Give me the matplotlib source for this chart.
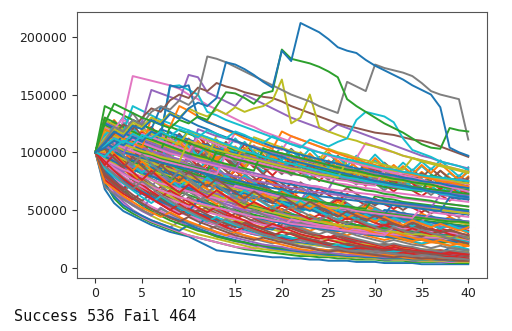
import matplotlib

matplotlib.use("Agg")
import matplotlib.pyplot as plt
import numpy as np

# Monte Carlo balance paths, values in thousands, one value per year 0..40
years = list(range(41))
n_success = 536
n_fail = 464

background = [
    # low paths, fast decay
    [100, 68, 56, 49, 45, 41, 37, 34, 31, 29, 27, 23, 19, 15, 14, 13, 12, 11, 10, 9, 9, 8, 8, 7, 7, 6, 6, 6, 5, 5, 5, 4, 4, 4, 4, 3, 3, 3, 3, 3, 3],
    [100, 74, 60, 52, 47, 43, 39, 36, 33, 30, 28, 26, 24, 22, 20, 18, 16, 15, 14, 13, 12, 11, 10, 10, 9, 9, 8, 8, 7, 7, 7, 6, 6, 6, 5, 5, 5, 5, 4, 4, 4],
    [100, 80, 66, 57, 50, 45, 41, 38, 35, 40, 36, 33, 30, 27, 25, 23, 21, 19, 18, 16, 15, 14, 13, 12, 11, 10, 10, 9, 9, 8, 8, 7, 7, 7, 6, 6, 6, 5, 5, 5, 5],
    [100, 77, 63, 55, 49, 44, 40, 37, 34, 31, 28, 26, 24, 22, 20, 18, 17, 16, 20, 18, 16, 15, 14, 13, 12, 11, 10, 10, 9, 9, 8, 8, 7, 7, 7, 6, 6, 6, 5, 5, 5],
    [100, 85, 72, 62, 55, 50, 45, 41, 38, 35, 32, 29, 27, 25, 23, 21, 19, 17, 16, 15, 14, 13, 12, 11, 11, 10, 10, 9, 9, 8, 8, 8, 7, 7, 7, 6, 6, 6, 6, 5, 5],
    [100, 72, 62, 54, 49, 45, 41, 38, 35, 32, 37, 34, 31, 28, 26, 24, 22, 20, 19, 17, 16, 15, 14, 13, 12, 11, 11, 10, 10, 9, 9, 8, 8, 8, 7, 7, 7, 7, 6, 6, 6],
    [100, 90, 78, 68, 60, 54, 49, 45, 41, 38, 35, 32, 30, 27, 25, 23, 22, 20, 19, 18, 17, 16, 15, 14, 13, 12, 12, 11, 11, 10, 10, 9, 9, 9, 8, 8, 8, 7, 7, 7, 7],
    [100, 82, 70, 60, 54, 49, 45, 52, 47, 43, 39, 36, 33, 30, 28, 26, 24, 22, 20, 19, 18, 16, 15, 14, 13, 13, 12, 11, 11, 10, 10, 9, 9, 9, 8, 8, 8, 7, 7, 7, 7],
    # lower-middle
    [100, 88, 78, 70, 63, 58, 53, 49, 45, 42, 39, 36, 34, 31, 29, 27, 34, 31, 29, 27, 25, 23, 22, 20, 19, 18, 17, 16, 15, 14, 13, 12, 12, 11, 11, 10, 10, 9, 9, 9, 8],
    [100, 92, 84, 77, 71, 66, 61, 57, 53, 49, 46, 43, 40, 37, 35, 33, 31, 29, 27, 25, 24, 22, 21, 20, 19, 18, 17, 16, 15, 14, 14, 13, 12, 12, 11, 11, 10, 10, 10, 9, 9],
    [100, 86, 76, 68, 80, 72, 65, 60, 55, 51, 47, 44, 41, 38, 36, 33, 31, 29, 28, 26, 25, 23, 22, 21, 20, 19, 18, 17, 16, 15, 14, 14, 13, 13, 12, 12, 11, 11, 11, 10, 10],
    [100, 95, 88, 82, 76, 70, 65, 61, 57, 53, 50, 47, 44, 41, 39, 37, 35, 33, 31, 29, 28, 26, 25, 24, 22, 21, 20, 19, 19, 18, 17, 16, 16, 15, 15, 14, 14, 13, 13, 12, 12],
    [100, 78, 68, 60, 55, 50, 62, 56, 52, 48, 45, 42, 39, 37, 35, 33, 31, 29, 28, 26, 25, 24, 23, 22, 21, 20, 19, 18, 17, 17, 16, 15, 15, 14, 14, 13, 13, 12, 12, 12, 11],
    [100, 90, 82, 75, 69, 64, 59, 55, 51, 48, 45, 42, 40, 37, 35, 33, 31, 30, 28, 27, 26, 24, 23, 22, 26, 24, 23, 22, 21, 20, 19, 18, 17, 17, 16, 15, 15, 14, 14, 13, 13],
    [100, 98, 92, 86, 80, 75, 70, 66, 62, 58, 55, 52, 49, 46, 43, 41, 39, 37, 35, 33, 31, 30, 28, 27, 26, 24, 23, 22, 21, 20, 19, 19, 18, 17, 17, 16, 15, 15, 14, 14, 14],
    [100, 84, 74, 66, 60, 55, 51, 47, 44, 41, 38, 36, 45, 41, 38, 36, 33, 31, 30, 28, 26, 25, 24, 22, 21, 20, 19, 18, 18, 17, 16, 16, 15, 15, 14, 14, 13, 13, 17, 16, 15],
    # middle
    [100, 105, 98, 92, 86, 81, 77, 73, 69, 66, 63, 60, 57, 54, 52, 50, 48, 46, 44, 42, 40, 39, 37, 36, 35, 33, 32, 31, 30, 29, 28, 27, 26, 25, 24, 24, 23, 22, 22, 21, 20],
    [100, 93, 87, 82, 77, 73, 69, 82, 77, 73, 69, 66, 63, 60, 57, 55, 52, 50, 48, 46, 44, 42, 41, 39, 38, 36, 35, 34, 32, 31, 30, 29, 28, 27, 26, 26, 25, 24, 23, 23, 22],
    [100, 112, 104, 97, 91, 86, 81, 77, 73, 69, 66, 63, 60, 57, 55, 53, 51, 49, 47, 45, 43, 41, 39, 38, 36, 35, 34, 33, 40, 38, 37, 35, 34, 33, 32, 31, 30, 29, 28, 27, 26],
    [100, 96, 90, 85, 80, 75, 71, 67, 64, 61, 58, 55, 53, 51, 61, 58, 55, 53, 51, 49, 47, 45, 43, 42, 40, 39, 37, 36, 35, 34, 33, 32, 31, 30, 29, 28, 27, 27, 26, 25, 25],
    [100, 88, 81, 75, 70, 66, 62, 58, 55, 52, 50, 47, 45, 43, 41, 39, 37, 36, 34, 33, 40, 38, 37, 35, 34, 33, 32, 31, 30, 29, 28, 27, 26, 26, 25, 24, 24, 23, 23, 22, 22],
    [100, 118, 110, 103, 97, 92, 87, 82, 78, 74, 70, 67, 64, 61, 58, 56, 53, 51, 49, 47, 45, 43, 42, 40, 39, 37, 36, 35, 34, 33, 32, 31, 30, 29, 28, 27, 26, 26, 25, 24, 24],
    [100, 94, 88, 83, 95, 89, 84, 79, 75, 71, 67, 64, 61, 58, 55, 52, 50, 48, 46, 44, 42, 40, 38, 37, 35, 34, 33, 31, 30, 29, 36, 35, 33, 32, 31, 30, 29, 28, 27, 27, 26],
    [100, 90, 84, 79, 74, 70, 66, 62, 59, 56, 53, 51, 48, 46, 44, 42, 41, 39, 37, 36, 35, 42, 40, 39, 37, 36, 35, 34, 33, 32, 31, 30, 29, 28, 28, 27, 26, 26, 25, 25, 24],
    [100, 104, 97, 91, 86, 81, 76, 72, 68, 64, 76, 72, 68, 65, 62, 59, 56, 54, 51, 49, 47, 45, 43, 42, 40, 39, 37, 36, 35, 34, 33, 32, 31, 30, 29, 28, 28, 27, 26, 26, 25],
    [100, 86, 79, 73, 68, 64, 60, 57, 54, 51, 49, 58, 55, 52, 50, 48, 46, 44, 42, 40, 39, 37, 36, 35, 34, 33, 32, 38, 37, 36, 35, 34, 33, 32, 31, 30, 29, 28, 28, 27, 26],
    [100, 97, 93, 89, 86, 83, 80, 77, 74, 71, 68, 66, 63, 61, 59, 57, 55, 53, 51, 50, 48, 46, 45, 43, 42, 41, 40, 39, 37, 36, 35, 34, 34, 33, 32, 31, 30, 30, 29, 28, 28],
    [100, 110, 103, 97, 92, 87, 83, 79, 75, 72, 69, 66, 63, 61, 58, 56, 54, 52, 50, 48, 47, 45, 44, 42, 41, 50, 48, 47, 45, 44, 43, 42, 41, 40, 39, 38, 37, 36, 35, 35, 34],
    [100, 92, 86, 81, 77, 73, 70, 67, 64, 61, 59, 56, 54, 52, 50, 48, 46, 44, 43, 41, 40, 38, 37, 36, 35, 34, 33, 32, 31, 30, 29, 28, 35, 34, 33, 32, 31, 30, 30, 29, 28],
    [100, 95, 90, 104, 98, 93, 88, 83, 79, 75, 72, 68, 65, 62, 59, 57, 54, 52, 50, 48, 46, 44, 43, 41, 40, 38, 37, 36, 35, 34, 33, 32, 31, 30, 29, 29, 28, 27, 27, 26, 26],
    # upper-middle
    [100, 114, 108, 103, 98, 94, 90, 86, 83, 80, 77, 74, 71, 69, 66, 64, 62, 60, 58, 56, 54, 53, 51, 50, 48, 47, 46, 44, 43, 42, 41, 50, 49, 47, 46, 45, 44, 43, 42, 41, 40],
    [100, 106, 101, 96, 92, 88, 84, 81, 78, 75, 90, 86, 83, 80, 77, 74, 71, 69, 66, 64, 62, 60, 58, 56, 55, 53, 51, 50, 48, 47, 46, 45, 44, 43, 42, 41, 40, 39, 38, 37, 36],
    [100, 98, 94, 90, 87, 84, 81, 78, 75, 72, 70, 68, 66, 64, 62, 60, 58, 70, 68, 66, 64, 62, 60, 58, 57, 55, 54, 52, 51, 50, 49, 48, 47, 46, 45, 44, 43, 42, 41, 40, 40],
    [100, 120, 114, 109, 104, 100, 96, 92, 89, 86, 83, 80, 77, 74, 72, 69, 67, 65, 63, 61, 59, 57, 56, 54, 53, 51, 50, 49, 47, 46, 45, 44, 43, 42, 41, 40, 48, 47, 46, 45, 44],
    [100, 102, 98, 94, 90, 87, 84, 81, 97, 93, 89, 86, 83, 80, 77, 75, 72, 70, 68, 66, 64, 62, 60, 58, 57, 55, 54, 52, 51, 50, 48, 47, 46, 45, 44, 43, 42, 41, 40, 39, 38],
    [100, 96, 92, 88, 85, 82, 79, 76, 74, 71, 69, 67, 80, 77, 75, 72, 70, 68, 66, 64, 62, 60, 58, 57, 55, 54, 52, 51, 50, 48, 47, 46, 56, 54, 53, 52, 50, 49, 48, 47, 46],
    [100, 117, 112, 107, 103, 99, 95, 92, 89, 86, 83, 80, 78, 75, 73, 71, 69, 67, 65, 63, 61, 60, 58, 57, 55, 54, 53, 51, 50, 49, 48, 47, 46, 45, 44, 43, 42, 41, 40, 40, 39],
    [100, 108, 104, 100, 97, 94, 91, 88, 85, 83, 80, 78, 76, 74, 72, 70, 68, 66, 65, 63, 61, 60, 58, 70, 68, 66, 64, 63, 61, 60, 58, 57, 56, 55, 54, 53, 52, 51, 50, 49, 48],
    [100, 93, 89, 85, 82, 79, 76, 73, 71, 68, 66, 64, 62, 60, 58, 71, 69, 67, 65, 63, 61, 59, 58, 56, 55, 53, 52, 51, 49, 48, 47, 46, 45, 44, 43, 52, 51, 50, 49, 48, 47],
    [100, 111, 106, 102, 98, 94, 91, 88, 85, 82, 79, 77, 74, 72, 70, 68, 66, 64, 62, 61, 59, 58, 56, 55, 53, 52, 51, 62, 60, 59, 57, 56, 55, 54, 53, 52, 51, 50, 49, 48, 47],
    [100, 104, 100, 96, 93, 90, 87, 84, 81, 79, 76, 74, 72, 70, 68, 66, 64, 62, 60, 59, 57, 56, 54, 53, 52, 50, 49, 48, 47, 46, 45, 44, 43, 42, 41, 40, 39, 38, 37, 36, 35],
    [100, 124, 118, 113, 108, 104, 100, 96, 93, 90, 87, 84, 81, 79, 76, 74, 72, 70, 68, 66, 64, 62, 60, 59, 57, 56, 54, 53, 52, 51, 62, 60, 59, 57, 56, 55, 54, 53, 52, 51, 50],
    # upper paths
    [100, 118, 114, 110, 106, 103, 100, 97, 94, 92, 89, 87, 85, 83, 81, 79, 77, 75, 74, 72, 71, 69, 68, 66, 65, 64, 63, 61, 60, 59, 58, 57, 56, 55, 54, 53, 52, 63, 62, 61, 60],
    [100, 108, 105, 128, 124, 120, 117, 114, 111, 108, 105, 103, 100, 98, 95, 93, 91, 89, 87, 85, 83, 81, 80, 78, 76, 75, 73, 72, 70, 69, 68, 66, 65, 64, 63, 62, 61, 60, 59, 58, 57],
    [100, 122, 118, 115, 112, 109, 106, 104, 101, 99, 97, 95, 93, 91, 89, 87, 85, 102, 100, 98, 96, 94, 92, 90, 88, 86, 85, 83, 82, 80, 79, 77, 76, 75, 74, 72, 71, 70, 69, 68, 67],
    [100, 115, 112, 109, 106, 103, 100, 120, 117, 114, 111, 108, 106, 103, 101, 99, 97, 95, 93, 91, 89, 87, 85, 84, 82, 80, 79, 77, 76, 74, 73, 72, 70, 69, 68, 67, 66, 65, 64, 63, 62],
    [100, 112, 109, 106, 103, 100, 97, 95, 92, 90, 88, 86, 84, 101, 99, 97, 95, 93, 91, 89, 87, 85, 84, 82, 80, 79, 77, 76, 74, 73, 72, 70, 69, 68, 67, 66, 80, 78, 77, 76, 75],
    [100, 126, 122, 118, 114, 111, 108, 105, 102, 99, 97, 94, 92, 90, 88, 86, 84, 82, 80, 78, 76, 75, 73, 71, 70, 68, 82, 80, 79, 77, 76, 74, 73, 71, 70, 69, 68, 66, 65, 64, 63],
    [100, 110, 107, 104, 101, 98, 96, 93, 91, 89, 87, 85, 83, 81, 98, 96, 94, 92, 90, 88, 86, 84, 83, 81, 79, 78, 76, 75, 73, 72, 71, 85, 83, 82, 80, 79, 77, 76, 75, 74, 72],
    [100, 128, 124, 120, 117, 113, 110, 107, 104, 101, 99, 96, 94, 115, 112, 110, 107, 105, 103, 101, 99, 97, 95, 93, 91, 89, 88, 86, 84, 83, 81, 80, 78, 77, 76, 74, 73, 72, 71, 70, 68],
    [100, 106, 103, 100, 98, 95, 93, 91, 89, 87, 85, 83, 81, 79, 77, 76, 74, 72, 71, 69, 68, 66, 65, 64, 62, 61, 60, 59, 58, 57, 56, 55, 54, 53, 52, 51, 50, 49, 61, 60, 59],
    [100, 120, 116, 113, 110, 107, 104, 101, 122, 119, 116, 113, 110, 107, 105, 102, 100, 98, 96, 94, 92, 90, 88, 86, 85, 83, 81, 80, 78, 77, 75, 74, 73, 71, 70, 69, 68, 67, 66, 65, 64],
    [100, 116, 113, 110, 107, 104, 101, 99, 96, 94, 92, 120, 117, 114, 112, 109, 107, 105, 102, 100, 98, 96, 94, 92, 91, 89, 87, 86, 84, 83, 81, 80, 79, 77, 76, 75, 74, 73, 72, 71, 70],
    [100, 112, 109, 106, 103, 116, 113, 110, 107, 104, 101, 113, 110, 107, 104, 117, 114, 111, 108, 105, 102, 114, 111, 108, 105, 102, 99, 97, 95, 108, 105, 102, 100, 97, 95, 93, 91, 89, 87, 85, 83],
    [100, 118, 114, 111, 124, 120, 116, 113, 110, 107, 118, 115, 112, 109, 106, 103, 100, 113, 110, 107, 104, 101, 99, 96, 94, 103, 100, 98, 95, 93, 91, 89, 87, 85, 95, 93, 91, 89, 87, 85, 83],
    [100, 125, 121, 117, 113, 110, 106, 103, 100, 97, 95, 92, 90, 88, 86, 84, 82, 80, 78, 76, 74, 72, 71, 69, 68, 66, 65, 63, 62, 61, 59, 58, 57, 56, 55, 54, 53, 52, 51, 50, 49],
    [100, 130, 126, 122, 118, 114, 111, 108, 105, 102, 99, 97, 95, 92, 90, 88, 86, 84, 103, 101, 99, 97, 95, 93, 91, 89, 87, 85, 84, 82, 80, 79, 77, 76, 74, 73, 72, 70, 69, 68, 67],
    [100, 105, 102, 99, 112, 109, 106, 103, 100, 98, 95, 93, 91, 89, 87, 85, 97, 95, 93, 91, 89, 87, 85, 84, 82, 80, 79, 77, 76, 74, 73, 72, 70, 69, 68, 67, 66, 65, 64, 77, 75],
    [100, 121, 117, 114, 111, 108, 105, 102, 99, 97, 94, 92, 90, 88, 86, 84, 82, 80, 79, 77, 75, 74, 72, 71, 70, 68, 67, 66, 65, 64, 63, 62, 61, 60, 59, 58, 57, 56, 55, 54, 53],
    [100, 113, 110, 107, 104, 101, 99, 96, 94, 92, 110, 107, 105, 102, 100, 98, 96, 94, 92, 90, 88, 86, 85, 83, 81, 80, 78, 93, 91, 89, 87, 86, 84, 83, 81, 80, 78, 77, 76, 74, 73],
    [100, 115, 122, 118, 140, 136, 132, 128, 125, 122, 119, 116, 113, 110, 107, 104, 101, 99, 96, 94, 92, 90, 88, 86, 84, 82, 80, 78, 77, 75, 74, 72, 71, 69, 68, 67, 66, 64, 63, 62, 61],
    [100, 108, 104, 116, 128, 124, 120, 139, 135, 131, 127, 123, 120, 116, 113, 110, 107, 104, 101, 98, 96, 93, 91, 89, 87, 85, 83, 81, 79, 77, 75, 74, 72, 71, 69, 68, 66, 65, 64, 62, 61],
    [100, 120, 116, 112, 108, 104, 130, 126, 122, 140, 136, 131, 127, 123, 119, 116, 112, 109, 106, 103, 118, 114, 111, 108, 105, 102, 99, 96, 94, 91, 89, 87, 85, 83, 81, 79, 77, 75, 74, 72, 70],
    [100, 140, 136, 132, 128, 124, 120, 117, 114, 111, 108, 105, 102, 99, 97, 94, 92, 90, 88, 86, 84, 82, 80, 78, 76, 74, 72, 70, 69, 67, 66, 64, 63, 61, 60, 59, 58, 56, 55, 54, 53],
]

# saw-tooth paths that fill the bundle
jagged = [
    [100, 91, 100, 92, 85, 94, 86, 79, 87, 80, 74, 81, 75, 69, 76, 70, 64, 71, 65, 60, 66, 61, 56, 62, 57, 52, 57, 53, 49, 54, 50, 46, 50, 46, 43, 47, 43, 40, 44, 40, 37],
    [100, 110, 101, 93, 102, 94, 87, 96, 88, 81, 89, 82, 90, 83, 76, 84, 77, 71, 78, 72, 66, 73, 67, 62, 68, 63, 58, 64, 59, 54, 60, 55, 51, 56, 52, 48, 53, 49, 45, 50, 46],
    [100, 88, 80, 88, 81, 74, 82, 75, 69, 63, 69, 64, 58, 64, 59, 54, 50, 55, 50, 46, 51, 47, 43, 39, 43, 40, 36, 40, 37, 34, 31, 34, 31, 29, 32, 29, 27, 24, 27, 25, 23],
    [100, 117, 107, 98, 108, 99, 91, 100, 92, 85, 93, 86, 79, 87, 80, 88, 81, 75, 69, 76, 70, 64, 70, 65, 60, 55, 61, 56, 51, 56, 52, 48, 44, 48, 44, 41, 45, 41, 38, 42, 38],
    [100, 95, 104, 96, 88, 81, 89, 82, 75, 83, 76, 70, 64, 70, 65, 60, 66, 61, 56, 51, 56, 52, 48, 53, 49, 45, 41, 45, 42, 38, 35, 39, 36, 33, 36, 33, 31, 28, 31, 29, 26],
    [100, 84, 77, 85, 78, 72, 66, 61, 67, 62, 57, 52, 57, 53, 48, 44, 49, 45, 41, 38, 42, 38, 35, 32, 35, 33, 30, 28, 31, 28, 26, 24, 26, 24, 22, 20, 22, 21, 19, 17, 19],
    [100, 120, 110, 121, 111, 102, 94, 103, 95, 87, 96, 88, 81, 74, 81, 75, 69, 76, 70, 64, 59, 65, 60, 55, 50, 55, 51, 47, 43, 47, 43, 40, 37, 41, 37, 34, 31, 34, 32, 29, 27],
    [100, 102, 94, 103, 95, 104, 96, 88, 97, 89, 82, 90, 83, 91, 84, 77, 85, 78, 72, 79, 73, 67, 74, 68, 62, 68, 63, 69, 64, 59, 54, 59, 55, 50, 55, 51, 47, 51, 47, 44, 48],
    [100, 78, 72, 66, 73, 67, 61, 56, 62, 57, 52, 48, 53, 49, 45, 41, 38, 42, 38, 35, 32, 35, 32, 30, 27, 25, 28, 25, 23, 21, 19, 21, 19, 18, 16, 15, 16, 15, 14, 13, 12],
    [100, 108, 116, 107, 98, 108, 99, 91, 84, 92, 85, 78, 86, 79, 73, 67, 74, 68, 62, 57, 63, 58, 53, 49, 54, 50, 46, 42, 46, 42, 39, 36, 40, 37, 34, 31, 34, 31, 29, 27, 25],
    [100, 126, 116, 107, 98, 90, 99, 91, 84, 92, 85, 78, 72, 79, 73, 80, 74, 68, 62, 57, 63, 58, 53, 58, 54, 49, 45, 50, 46, 42, 39, 43, 39, 36, 33, 30, 33, 31, 28, 26, 24],
    [100, 96, 88, 97, 89, 98, 90, 99, 91, 84, 77, 85, 78, 86, 79, 73, 80, 74, 81, 75, 69, 63, 58, 64, 59, 54, 59, 55, 50, 46, 51, 47, 43, 40, 44, 40, 37, 34, 37, 34, 32],
    [100, 90, 83, 76, 70, 77, 71, 65, 60, 55, 61, 56, 51, 47, 43, 47, 44, 40, 37, 34, 37, 34, 31, 29, 26, 24, 27, 24, 22, 20, 18, 20, 18, 17, 15, 14, 13, 14, 13, 12, 11],
    [100, 112, 103, 95, 87, 96, 88, 81, 89, 82, 75, 69, 76, 70, 77, 71, 65, 72, 66, 61, 56, 62, 57, 52, 48, 44, 48, 45, 41, 45, 42, 38, 35, 32, 35, 33, 30, 33, 30, 28, 26],
    [100, 104, 96, 88, 81, 89, 82, 75, 69, 76, 70, 64, 59, 65, 60, 55, 61, 56, 51, 47, 43, 47, 44, 40, 37, 34, 37, 34, 31, 29, 32, 29, 27, 25, 23, 21, 23, 21, 19, 18, 16],
    [100, 94, 104, 113, 104, 96, 88, 97, 89, 82, 90, 83, 91, 84, 77, 85, 78, 72, 79, 73, 67, 61, 67, 62, 57, 52, 57, 53, 48, 53, 49, 45, 41, 45, 42, 38, 35, 39, 36, 33, 30],
    [100, 80, 74, 68, 75, 69, 63, 70, 64, 59, 54, 59, 55, 50, 46, 42, 46, 43, 39, 36, 33, 36, 33, 31, 28, 26, 29, 26, 24, 22, 20, 18, 20, 18, 17, 15, 14, 15, 14, 13, 12],
    [100, 118, 109, 100, 110, 101, 93, 86, 94, 87, 80, 88, 81, 74, 68, 63, 69, 64, 70, 64, 59, 54, 60, 55, 50, 46, 51, 47, 43, 40, 44, 40, 37, 34, 37, 34, 31, 29, 32, 29, 27],
    [100, 98, 90, 83, 91, 84, 77, 71, 65, 60, 66, 61, 56, 51, 47, 52, 48, 44, 40, 37, 34, 37, 34, 31, 29, 32, 29, 27, 25, 23, 21, 19, 21, 19, 18, 16, 15, 14, 15, 14, 13],
    [100, 114, 105, 97, 107, 98, 90, 83, 91, 84, 77, 85, 93, 86, 79, 73, 80, 74, 68, 62, 68, 63, 58, 64, 59, 54, 50, 55, 50, 46, 51, 47, 43, 47, 43, 40, 44, 40, 37, 34, 37],
    [100, 88, 97, 89, 82, 75, 83, 76, 70, 77, 71, 65, 60, 55, 61, 56, 51, 56, 52, 48, 44, 40, 44, 41, 37, 34, 38, 35, 32, 29, 32, 29, 27, 25, 23, 25, 23, 21, 19, 21, 19],
    [100, 106, 98, 90, 99, 91, 100, 92, 85, 78, 86, 79, 87, 80, 73, 67, 74, 68, 63, 58, 64, 59, 54, 50, 55, 50, 46, 42, 46, 43, 39, 36, 40, 36, 33, 31, 34, 31, 29, 26, 29],
    [100, 122, 112, 103, 113, 104, 96, 88, 97, 89, 82, 90, 83, 91, 84, 77, 71, 65, 72, 66, 61, 56, 51, 56, 52, 48, 53, 48, 44, 41, 45, 41, 38, 35, 38, 35, 32, 30, 33, 30, 28],
    [100, 92, 85, 78, 72, 79, 73, 67, 74, 68, 62, 57, 63, 58, 53, 49, 45, 50, 46, 42, 39, 36, 39, 36, 33, 31, 28, 31, 28, 26, 24, 22, 24, 22, 20, 19, 17, 19, 17, 16, 15],
    [100, 116, 107, 118, 108, 100, 92, 84, 93, 85, 78, 86, 79, 73, 80, 74, 68, 62, 57, 63, 58, 53, 49, 54, 49, 45, 42, 46, 42, 39, 36, 33, 36, 33, 31, 28, 31, 29, 26, 24, 22],
    [100, 100, 110, 101, 93, 85, 94, 86, 79, 73, 80, 74, 68, 62, 69, 63, 58, 53, 49, 54, 50, 46, 42, 46, 42, 39, 36, 33, 36, 33, 30, 28, 31, 28, 26, 24, 22, 24, 22, 20, 19],
    [100, 85, 93, 86, 79, 72, 66, 61, 67, 62, 57, 52, 48, 53, 48, 44, 41, 37, 34, 38, 35, 32, 29, 27, 25, 27, 25, 23, 21, 19, 18, 16, 18, 16, 15, 14, 13, 12, 13, 12, 11],
    [100, 110, 121, 111, 102, 94, 86, 95, 87, 80, 88, 81, 75, 82, 76, 70, 64, 70, 65, 60, 55, 50, 55, 51, 47, 52, 47, 44, 40, 37, 34, 37, 34, 32, 29, 27, 30, 27, 25, 23, 21],
    [100, 113, 124, 114, 105, 116, 107, 118, 108, 100, 110, 101, 93, 102, 94, 103, 95, 87, 96, 88, 81, 89, 82, 90, 83, 76, 84, 77, 85, 78, 72, 79, 73, 80, 74, 68, 75, 69, 76, 70, 64],
    [100, 119, 109, 120, 110, 101, 111, 102, 94, 103, 95, 104, 96, 88, 97, 89, 98, 90, 83, 91, 84, 92, 85, 78, 86, 79, 87, 80, 74, 81, 75, 69, 76, 70, 77, 71, 78, 72, 66, 73, 67],
    [100, 105, 116, 107, 98, 108, 99, 109, 100, 110, 101, 93, 102, 94, 103, 95, 87, 96, 88, 97, 89, 82, 90, 83, 91, 84, 77, 85, 78, 72, 79, 73, 80, 74, 81, 75, 69, 76, 70, 64, 71],
    [100, 124, 114, 105, 115, 106, 117, 108, 99, 109, 100, 92, 101, 93, 102, 94, 86, 95, 87, 80, 88, 81, 89, 82, 75, 83, 76, 84, 77, 71, 78, 72, 66, 73, 67, 62, 68, 63, 58, 64, 59],
    [100, 97, 107, 118, 109, 100, 110, 101, 111, 102, 94, 103, 95, 105, 96, 88, 97, 89, 81, 89, 82, 90, 83, 91, 84, 77, 85, 78, 86, 79, 73, 80, 74, 81, 75, 82, 75, 69, 76, 70, 77],
    [100, 115, 106, 117, 108, 119, 109, 100, 110, 101, 93, 102, 94, 103, 95, 87, 96, 88, 97, 89, 82, 90, 83, 76, 84, 77, 85, 78, 72, 79, 73, 67, 74, 68, 75, 69, 63, 69, 64, 59, 65],
    # upper band
    [100, 125, 115, 126, 116, 127, 117, 108, 118, 109, 119, 110, 101, 111, 102, 112, 103, 95, 104, 96, 105, 97, 89, 98, 90, 99, 91, 84, 92, 85, 93, 86, 79, 87, 80, 88, 81, 75, 82, 76, 83],
    [100, 118, 128, 118, 109, 119, 110, 120, 111, 102, 112, 103, 113, 104, 96, 105, 97, 106, 98, 90, 99, 91, 100, 92, 85, 93, 86, 94, 87, 80, 88, 81, 89, 82, 76, 83, 77, 84, 78, 72, 79],
    [100, 130, 120, 110, 121, 111, 122, 112, 103, 113, 104, 114, 105, 97, 106, 98, 107, 99, 91, 100, 92, 84, 92, 85, 93, 86, 79, 87, 80, 88, 81, 74, 81, 75, 82, 76, 70, 77, 71, 65, 72],
    [100, 112, 123, 113, 124, 114, 105, 115, 106, 116, 107, 98, 108, 99, 109, 100, 92, 101, 93, 102, 94, 103, 95, 87, 96, 88, 97, 89, 82, 90, 83, 91, 84, 77, 85, 78, 86, 79, 73, 80, 74],
    [100, 121, 111, 122, 134, 123, 113, 104, 114, 105, 97, 106, 98, 108, 99, 91, 100, 92, 101, 93, 86, 94, 87, 95, 88, 81, 89, 82, 75, 83, 76, 84, 77, 71, 78, 72, 79, 73, 67, 74, 68],
    [100, 108, 119, 131, 121, 111, 102, 112, 103, 113, 104, 96, 105, 97, 106, 98, 90, 99, 91, 100, 92, 85, 93, 86, 79, 87, 80, 88, 81, 74, 82, 75, 69, 76, 70, 77, 71, 65, 72, 66, 60],
    [100, 127, 117, 108, 118, 109, 120, 110, 101, 111, 102, 94, 103, 95, 104, 96, 88, 97, 89, 98, 90, 83, 91, 84, 92, 85, 93, 86, 79, 87, 80, 74, 81, 75, 82, 76, 70, 77, 71, 78, 72],
    [100, 114, 125, 115, 106, 117, 108, 99, 109, 100, 110, 101, 93, 102, 94, 86, 95, 87, 96, 88, 97, 89, 82, 90, 83, 91, 84, 77, 85, 78, 86, 79, 72, 79, 73, 67, 74, 68, 75, 69, 63],
    [100, 116, 127, 117, 108, 99, 109, 100, 110, 101, 111, 102, 94, 103, 95, 87, 96, 88, 97, 89, 82, 90, 99, 91, 84, 92, 85, 78, 86, 79, 87, 80, 74, 81, 75, 82, 76, 84, 77, 71, 78],
    [100, 122, 112, 103, 113, 104, 114, 105, 97, 106, 98, 108, 99, 91, 100, 92, 101, 93, 86, 94, 87, 80, 88, 81, 89, 82, 90, 83, 76, 84, 77, 85, 78, 72, 79, 73, 80, 74, 68, 75, 69],
    [100, 110, 101, 111, 102, 112, 103, 113, 104, 114, 105, 97, 106, 98, 107, 99, 109, 100, 92, 101, 93, 102, 94, 103, 95, 87, 96, 88, 97, 89, 98, 90, 83, 91, 84, 92, 85, 93, 86, 79, 87],
    [100, 104, 114, 105, 115, 106, 98, 108, 99, 109, 100, 110, 101, 93, 102, 94, 104, 96, 88, 97, 89, 98, 90, 99, 91, 100, 92, 85, 93, 86, 95, 87, 80, 88, 81, 89, 82, 90, 83, 76, 84],
    # low band
    [100, 76, 70, 64, 59, 65, 60, 55, 50, 46, 51, 47, 43, 39, 36, 40, 37, 34, 31, 28, 31, 29, 26, 24, 22, 24, 22, 20, 19, 17, 16, 17, 16, 14, 13, 12, 13, 12, 11, 10, 9],
    [100, 82, 75, 69, 63, 58, 64, 59, 54, 49, 45, 50, 46, 42, 38, 35, 39, 36, 33, 30, 27, 30, 27, 25, 23, 21, 19, 21, 19, 18, 16, 15, 14, 15, 14, 13, 12, 11, 10, 9, 10],
    [100, 70, 64, 59, 54, 50, 46, 51, 47, 43, 39, 36, 33, 36, 33, 30, 28, 25, 23, 21, 23, 21, 19, 18, 16, 15, 16, 15, 14, 13, 12, 11, 10, 11, 10, 9, 8, 8, 9, 8, 7],
    [100, 86, 79, 73, 67, 61, 56, 62, 57, 52, 48, 44, 40, 44, 40, 37, 34, 31, 28, 26, 28, 26, 24, 22, 20, 18, 20, 18, 17, 15, 14, 13, 14, 13, 12, 11, 10, 9, 10, 9, 8],
    [100, 74, 68, 62, 57, 52, 48, 44, 48, 44, 40, 37, 34, 31, 28, 31, 28, 26, 24, 22, 20, 18, 16, 15, 16, 15, 14, 13, 12, 11, 10, 11, 10, 9, 8, 8, 7, 8, 7, 6, 6],
    [100, 92, 84, 77, 71, 65, 60, 55, 50, 55, 50, 46, 42, 39, 35, 32, 35, 32, 29, 27, 25, 23, 25, 23, 21, 19, 17, 16, 17, 16, 14, 13, 12, 13, 12, 11, 10, 9, 10, 9, 8],
    [100, 79, 72, 66, 61, 56, 51, 47, 43, 40, 44, 40, 37, 34, 31, 28, 26, 24, 26, 24, 22, 20, 18, 17, 15, 14, 15, 14, 13, 12, 11, 10, 9, 10, 9, 8, 8, 7, 7, 6, 6],
    [100, 88, 81, 74, 68, 75, 69, 63, 58, 53, 49, 45, 41, 38, 42, 38, 35, 32, 29, 27, 24, 22, 24, 22, 20, 18, 17, 15, 14, 15, 14, 13, 12, 11, 10, 11, 10, 9, 8, 8, 7],
    # middle band
    [100, 96, 105, 97, 89, 82, 90, 83, 76, 70, 77, 71, 78, 72, 66, 61, 67, 62, 57, 52, 57, 53, 58, 53, 49, 45, 50, 46, 42, 46, 42, 39, 43, 40, 36, 40, 37, 34, 37, 34, 31],
    [100, 108, 99, 91, 84, 92, 85, 78, 72, 79, 73, 67, 74, 68, 62, 57, 63, 58, 64, 59, 54, 50, 55, 51, 56, 51, 47, 43, 47, 44, 40, 44, 40, 37, 41, 38, 35, 38, 35, 32, 35],
    [100, 89, 98, 90, 83, 76, 84, 77, 71, 65, 72, 66, 61, 67, 62, 57, 52, 57, 53, 49, 54, 50, 46, 42, 46, 43, 39, 43, 40, 37, 34, 37, 34, 31, 34, 31, 29, 32, 29, 27, 25],
    [100, 103, 95, 87, 96, 88, 81, 89, 82, 75, 83, 76, 70, 77, 71, 65, 60, 66, 61, 56, 62, 57, 52, 57, 53, 48, 44, 49, 45, 41, 45, 42, 38, 35, 39, 36, 33, 30, 33, 30, 28],
    [100, 115, 106, 97, 89, 98, 90, 83, 76, 84, 77, 71, 65, 72, 66, 61, 56, 62, 57, 52, 48, 53, 49, 45, 41, 45, 41, 38, 42, 38, 35, 32, 35, 32, 30, 33, 30, 28, 25, 28, 25],
]

# the few paths that stand out above the bundle
path_gray = [100, 110, 122, 118, 128, 124, 135, 140, 137, 145, 141, 150, 183, 181, 178, 174, 170, 166, 162, 158, 154, 150, 147, 144, 140, 137, 134, 161, 157, 153, 176, 173, 171, 169, 166, 160, 153, 150, 148, 146, 111]
path_blue = [100, 108, 118, 113, 123, 120, 128, 124, 133, 129, 138, 143, 140, 147, 178, 176, 172, 167, 161, 156, 188, 179, 212, 208, 204, 198, 191, 188, 186, 180, 175, 171, 167, 163, 158, 154, 150, 139, 104, 100, 97]
path_green = [100, 125, 142, 138, 134, 130, 127, 124, 121, 128, 125, 131, 128, 140, 152, 151, 147, 142, 151, 153, 189, 181, 179, 177, 174, 170, 165, 146, 140, 135, 130, 125, 121, 117, 112, 107, 104, 103, 121, 119, 118]
path_cyan = [100, 96, 104, 110, 107, 115, 112, 118, 114, 120, 117, 113, 119, 116, 112, 118, 115, 111, 108, 114, 110, 107, 104, 111, 108, 105, 109, 112, 128, 135, 133, 131, 126, 112, 102, 99, 96, 92, 90, 88, 85]
path_olive = [100, 112, 120, 116, 126, 122, 130, 126, 134, 130, 138, 134, 131, 137, 133, 139, 135, 138, 140, 145, 163, 125, 130, 150, 122, 118, 115, 112, 110, 107, 105, 103, 100, 97, 95, 92, 90, 88, 86, 84, 82]
path_brown = [100, 108, 116, 124, 120, 130, 138, 135, 145, 150, 147, 156, 153, 160, 157, 155, 152, 150, 148, 147, 144, 140, 137, 134, 131, 128, 125, 123, 121, 119, 117, 116, 115, 113, 111, 110, 108, 105, 102, 99, 96]
path_pink = [100, 112, 120, 130, 166, 164, 162, 160, 158, 155, 150, 146, 141, 137, 133, 129, 125, 122, 118, 115, 112, 109, 106, 103, 100, 97, 95, 92, 90, 88, 86, 84, 82, 80, 78, 76, 74, 72, 70, 68, 66]
path_purple = [100, 110, 118, 114, 121, 126, 154, 151, 148, 145, 167, 165, 152, 148, 144, 140, 150, 146, 142, 138, 134, 130, 127, 124, 121, 118, 124, 121, 118, 115, 112, 109, 106, 103, 100, 97, 95, 92, 90, 88, 86]
path_cyan2 = [100, 106, 112, 108, 116, 112, 118, 114, 157, 158, 154, 150, 135, 132, 128, 125, 122, 119, 116, 113, 110, 107, 105, 102, 100, 98, 96, 94, 92, 90, 88, 86, 85, 83, 82, 80, 79, 78, 77, 76, 75]
path_blue2 = [100, 104, 110, 106, 113, 109, 118, 114, 158, 156, 158, 130, 126, 123, 120, 117, 114, 111, 108, 105, 103, 100, 98, 96, 94, 92, 90, 88, 86, 85, 83, 81, 80, 78, 77, 75, 74, 73, 71, 70, 69]

highlights = [
    (path_pink, "C6"),
    (path_purple, "C4"),
    (path_cyan2, "C9"),
    (path_blue2, "C0"),
    (path_brown, "C5"),
    (path_olive, "C8"),
    (path_cyan, "C9"),
    (path_gray, "C7"),
    (path_green, "C2"),
    (path_blue, "C0"),
]

fig = plt.figure(figsize=(5.12, 3.31), dpi=100)
fig.patch.set_facecolor("white")
ax = fig.add_axes([0.150, 0.161, 0.801, 0.803])

# interleave the smooth and saw-tooth paths so colours mix
paths = []
for i in range(max(len(background), len(jagged))):
    if i < len(background):
        paths.append(background[i])
    if i < len(jagged):
        paths.append(jagged[i])

for vals in paths:
    ax.plot(years[:len(vals)], np.array(vals) * 1000, linewidth=1.4)
for vals, col in highlights:
    ax.plot(years[:len(vals)], np.array(vals) * 1000, color=col, linewidth=1.4)

ax.set_xlim(-2, 42)
ax.set_ylim(-8700, 221600)
ax.set_xticks(range(0, 41, 5))
ax.set_yticks([0, 50000, 100000, 150000, 200000])
ax.tick_params(labelsize=9, colors="#333333", labelcolor="#222222")
for sp in ax.spines.values():
    sp.set_color("#555555")

fig.text(0.027, 0.043, f"Success {n_success} Fail {n_fail}",
         family="DejaVu Sans Mono", fontsize=11, color="#111111", va="center")

fig.savefig("out.png", dpi=100)

bad = [i for i, v in enumerate(jagged) if len(v) != 41]
if bad:
    raise SystemExit("bad lengths: " + str(bad))
